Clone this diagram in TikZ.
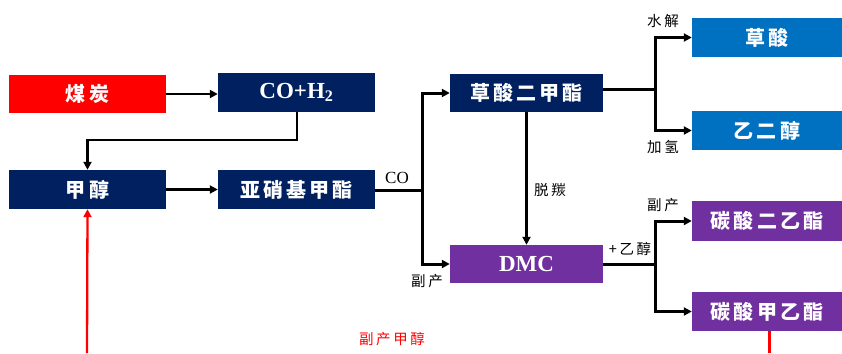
\documentclass[tikz,border=0pt]{standalone}
\usepackage{fontspec}
\setmainfont{Liberation Serif}
\newfontfamily\cjk{Noto Sans CJK SC}
\newfontfamily\cjkbox[LetterSpace=16]{Noto Sans CJK SC}
\newfontfamily\cjklbl[LetterSpace=18]{Noto Sans CJK SC}
\usetikzlibrary{arrows.meta}
\definecolor{navy}{RGB}{0,32,96}
\definecolor{boxred}{RGB}{255,0,0}
\definecolor{boxblue}{RGB}{0,112,192}
\definecolor{boxpurple}{RGB}{112,48,160}
\tikzset{
  box/.style={rectangle, inner sep=0pt, text=white, font=\cjkbox\bfseries\fontsize{20}{24}\selectfont},
  navybox/.style={box, fill=navy, minimum width=157pt, minimum height=39pt},
  redbox/.style={box, fill=boxred, minimum width=157pt, minimum height=38pt},
  midbox/.style={box, fill=navy, minimum width=153pt, minimum height=38pt},
  purplemid/.style={box, fill=boxpurple, minimum width=153pt, minimum height=38pt},
  bluebox/.style={box, fill=boxblue, minimum width=150pt, minimum height=39pt},
  purplebox/.style={box, fill=boxpurple, minimum width=150pt, minimum height=40pt},
  latin/.style={font=\bfseries\fontsize{23}{26}\selectfont},
  lbl/.style={inner sep=0pt, font=\cjklbl\fontsize{14.5}{16}\selectfont},
  arr/.style={draw=black, line width=2.3pt, -{Triangle[length=8pt,width=8pt]}},
  stem/.style={draw=black, line width=3pt},
  brarr/.style={draw=black, line width=3pt, -{Triangle[length=8pt,width=8pt]}},
}
\begin{document}
\begin{tikzpicture}[x=1pt,y=-1pt]
\useasboundingbox (0,0) rectangle (842,353);
% boxes
\node[redbox] (coal) at (87.5,94) {煤炭};
\node[navybox, latin] (syngas) at (296.5,92.5) {CO+H\textsubscript{2}};
\node[navybox] (methanol) at (87.5,189.5) {甲醇};
\node[navybox] (mn) at (296.5,189.5) {亚硝基甲酯};
\node[midbox] (dmo) at (526.5,93) {草酸二甲酯};
\node[purplemid, latin] (dmc) at (526.5,264) {DMC};
\node[bluebox] (oxa) at (767,37.5) {草酸};
\node[bluebox] (eg) at (767,130.5) {乙二醇};
\node[purplebox] (dec) at (767,221) {碳酸二乙酯};
\node[purplebox, minimum height=39pt] (emc) at (767,311.5) {碳酸甲乙酯};
% junction coordinates
\coordinate (j1) at (297,140);
\coordinate (b1) at (422,190);
\coordinate (b2) at (655,89);
\coordinate (b3) at (655,264);
\coordinate (r1) at (87,353);
\coordinate (r2) at (769,353);
% connectors
\draw[arr] (coal.east) -- (coal.east -| syngas.west);
\draw[arr] (syngas.south -| j1) |- (j1 -| methanol.north) -- (methanol.north);
\draw[arr] (methanol.east) -- (mn.west);
\draw[stem] (mn.east |- b1) -- (b1);
\draw[brarr] (b1) |- (dmo.west);
\draw[brarr] (b1) |- (dmc.west);
\draw[arr] (dmo.south) -- (dmc.north);
\draw[stem] (dmo.east |- b2) -- (b2);
\draw[brarr] (b2) |- (oxa.west);
\draw[brarr] (b2) |- (eg.west);
\draw[stem] (dmc.east) -- (b3);
\draw[brarr] (b3) |- (dec.west);
\draw[brarr] (b3) |- (emc.west);
\draw[red, line width=2.3pt, -{Triangle[length=8pt,width=8pt]}] (r1) -- (methanol.south);
\draw[red, line width=3pt] (emc.south -| r2) -- (r2);
% labels
\node[inner sep=0pt, font=\fontsize{17}{19}\selectfont] (lco) at (397,178) {CO};
\node[lbl] (lby1) at (427,281) {副产};
\node[lbl] (lde) at (550,190) {脱羰};
\node[lbl] (lhy) at (663,21) {水解};
\node[lbl] (lhd) at (663,147) {加氢};
\node[lbl] (lby2) at (663,205) {副产};
\node[lbl] (let) at (630,249) {+乙醇};
\node[lbl, text=red] (lbym) at (392,339) {副产甲醇};
\end{tikzpicture}
\end{document}
